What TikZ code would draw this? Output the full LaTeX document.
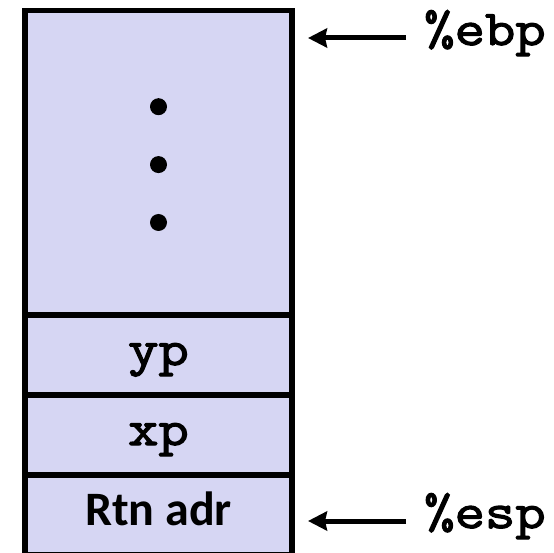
\documentclass[tikz,border=0pt]{standalone}
\usepackage{fontspec}
\setsansfont{Carlito}
\newfontfamily\courfont[FakeBold=2.5,FakeStretch=1.18]{Latin Modern Mono}
\usetikzlibrary{positioning,arrows.meta}
\definecolor{stackfill}{RGB}{214,214,243}

\begin{document}
\begin{tikzpicture}[x=1pt,y=-1pt]

		\tikzset{line/.style={draw,line width=5.5pt}}
		\tikzset{arrow/.style={draw,line width=5pt,-{Stealth[length=19pt,width=19pt,inset=2pt]}}}
		\tikzset{cell/.style={line,fill=stackfill,minimum width=267pt,minimum height=80pt,inner sep=0pt,outer sep=0pt,text height=50pt,text depth=30pt,anchor=north}}
		\tikzset{mono/.style={font=\fontsize{50}{50}\selectfont\courfont}}
		\tikzset{reg/.style={mono,anchor=west,inner xsep=18pt,inner ysep=0pt,text height=14pt,text depth=0pt}}
		\tikzset{dot/.style={circle,fill=black,minimum size=17pt,inner sep=0pt}}

		\useasboundingbox (0,0) rectangle (554,553);

		% stack cells, top to bottom
		\node[cell, minimum height=304.3pt] (frame) at (158.5,10.7) {};
		\node[cell, mono, below=0pt of frame] (yp) {yp};
		\node[cell, mono, below=0pt of yp] (xp) {xp};
		\node[cell, below=0pt of xp, font=\fontsize{48}{48}\selectfont\sffamily\bfseries] (rtn) {Rtn adr};

		% vertical ellipsis
		\node[dot] (d1) at (158.5,106.7) {};
		\node[dot, below=40.5pt of d1] (d2) {};
		\node[dot, below=40.5pt of d2] (d3) {};

		% register pointers
		\node[reg] (ebp) at (406,38) {\%ebp};
		\node[reg] (esp) at (406,521) {\%esp};
		\coordinate (ebptip) at (308,38);
		\coordinate (esptip) at (308,521);

		\path[arrow] (ebp.west) to (ebptip);
		\path[arrow] (esp.west) to (esptip);

\end{tikzpicture}
\end{document}
